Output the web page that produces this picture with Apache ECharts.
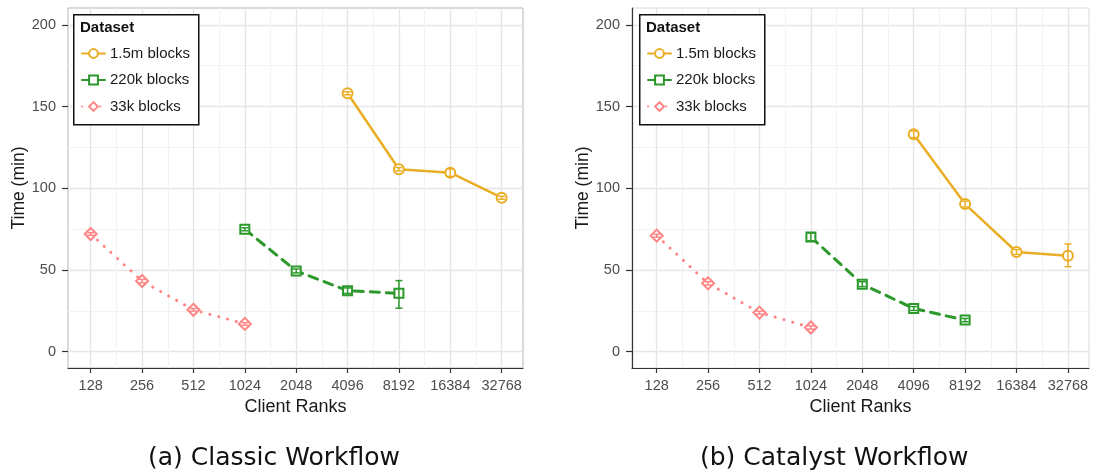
<!DOCTYPE html>
<html><head><meta charset="utf-8">
<script src="https://cdn.jsdelivr.net/npm/echarts@6/dist/echarts.min.js"></script>
<style>html,body{margin:0;padding:0;background:#fff}#c{width:1093px;height:475px}</style>
</head><body><div id="c"></div>
<script>
// ---- data ----
const rankTicks = [128, 256, 512, 1024, 2048, 4096, 8192, 16384, 32768];
const yTicks = [0, 50, 100, 150, 200];
const yMinorTicks = [25, 75, 125, 175];
const seriesNames = ['1.5m blocks', '220k blocks', '33k blocks'];
const panelTitles = ['(a) Classic Workflow', '(b) Catalyst Workflow'];

// Classic workflow
const classicRanks15m = [4096, 8192, 16384, 32768];
const classic15m      = [158.1, 111.6, 109.5, 94.2];
const classic15mLo    = [157.2, 110.6, 107.2, 93.3];
const classic15mHi    = [159.0, 112.6, 111.8, 95.1];
const classicRanks220k = [1024, 2048, 4096, 8192];
const classic220k      = [74.9, 49.4, 37.3, 35.7];
const classic220kLo    = [74.0, 48.2, 35.6, 26.6];
const classic220kHi    = [75.8, 50.6, 39.0, 43.5];
const classicRanks33k = [128, 256, 512, 1024];
const classic33k      = [72.0, 43.2, 25.6, 17.0];
const classic33kLo    = [71.2, 42.2, 24.8, 16.2];
const classic33kHi    = [72.8, 44.2, 26.4, 17.8];

// Catalyst workflow
const catalystRanks15m = [4096, 8192, 16384, 32768];
const catalyst15m      = [133.0, 90.3, 61.0, 58.7];
const catalyst15mLo    = [131.0, 88.5, 59.5, 52.0];
const catalyst15mHi    = [135.0, 92.1, 62.5, 65.9];
const catalystRanks220k = [1024, 2048, 4096, 8192];
const catalyst220k      = [70.2, 41.3, 26.4, 19.3];
const catalyst220kLo    = [67.8, 39.8, 25.2, 18.3];
const catalyst220kHi    = [72.6, 42.8, 27.6, 20.3];
const catalystRanks33k = [128, 256, 512, 1024];
const catalyst33k      = [71.0, 41.8, 23.9, 14.8];
const catalyst33kLo    = [70.1, 40.8, 23.0, 13.8];
const catalyst33kHi    = [71.9, 42.8, 24.8, 15.8];

// ---- styles ----
const colors = ['#EAAE24', '#2B982B', '#FF8585'];
const symbols = ['emptyCircle', 'emptyRect', 'emptyDiamond'];
const symbolSizes = [10, 9, 12];
const lineTypes = ['solid', [9, 7], [0.1, 9]];
const lineWidths = [2.5, 3, 3];
const FONT = 'Liberation Sans, Arial, sans-serif';

const lg = v => Math.log2(v);
const xMajor = rankTicks.map(lg);
const xMinor = xMajor.slice(0, -1).map(v => v + 0.5);

const panels = [
  {
    left: 68, width: 455, xmin: 6.558, xmax: 15.415, yAxisLine: false, box: 73, caption: 148,
    sets: [
      [classicRanks15m, classic15m, classic15mLo, classic15mHi],
      [classicRanks220k, classic220k, classic220kLo, classic220kHi],
      [classicRanks33k, classic33k, classic33kLo, classic33kHi]
    ]
  },
  {
    left: 632, width: 457, xmin: 6.52, xmax: 15.41, yAxisLine: true, box: 639, caption: 700,
    sets: [
      [catalystRanks15m, catalyst15m, catalyst15mLo, catalyst15mHi],
      [catalystRanks220k, catalyst220k, catalyst220kLo, catalyst220kHi],
      [catalystRanks33k, catalyst33k, catalyst33kLo, catalyst33kHi]
    ]
  }
];

const grid = [], xAxis = [], yAxis = [], series = [], legend = [], graphic = [];
const TOP = 8, HEIGHT = 360, YMIN = -10, YMAX = 210.3;

function errRender(params, api) {
  const x = api.value(0), lo = api.value(1), hi = api.value(2);
  const p1 = api.coord([x, lo]), p2 = api.coord([x, hi]);
  const w = 3.5;
  const style = { stroke: api.visual('color'), lineWidth: 1.5, fill: null };
  return {
    type: 'group', children: [
      { type: 'line', shape: { x1: p1[0], y1: p1[1], x2: p2[0], y2: p2[1] }, style },
      { type: 'line', shape: { x1: p1[0] - w, y1: p1[1], x2: p1[0] + w, y2: p1[1] }, style },
      { type: 'line', shape: { x1: p2[0] - w, y1: p2[1], x2: p2[0] + w, y2: p2[1] }, style }
    ]
  };
}

panels.forEach((p, gi) => {
  grid.push({ left: p.left, top: TOP, width: p.width, height: HEIGHT, show: true,
    borderColor: gi === 0 ? '#b5b5b5' : '#dcdcdc', borderWidth: 1, backgroundColor: '#fff' });
  xAxis.push({
    type: 'value', gridIndex: gi, min: p.xmin, max: p.xmax,
    name: 'Client Ranks', nameLocation: 'middle', nameGap: 25,
    nameTextStyle: { fontFamily: FONT, fontSize: 18, color: '#1a1a1a' },
    axisLine: { show: true, onZero: false, lineStyle: { color: '#333', width: 1.2 } },
    axisTick: { show: true, length: 5, customValues: xMajor, lineStyle: { color: '#333', width: 1.2 } },
    axisLabel: { customValues: xMajor, margin: 10, fontFamily: FONT, fontSize: 14.5, color: '#4d4d4d',
      formatter: v => String(Math.round(Math.pow(2, v))) },
    splitLine: { show: true, lineStyle: { color: '#e5e5e5', width: 1.3 } }
  });
  xAxis.push({
    type: 'value', gridIndex: gi, min: p.xmin, max: p.xmax,
    axisLine: { show: false }, axisTick: { show: false, customValues: xMinor },
    axisLabel: { show: false, customValues: xMinor },
    splitLine: { show: true, lineStyle: { color: '#f2f2f2', width: 1 } }
  });
  yAxis.push({
    type: 'value', gridIndex: gi, min: YMIN, max: YMAX,
    name: 'Time (min)', nameLocation: 'middle', nameGap: 39, nameRotate: 90,
    nameTextStyle: { fontFamily: FONT, fontSize: 17.5, color: '#1a1a1a' },
    axisLine: { show: p.yAxisLine, onZero: false, lineStyle: { color: '#333', width: 1.2 } },
    axisTick: { show: true, length: 6, customValues: yTicks, lineStyle: { color: '#333', width: 1.2 } },
    axisLabel: { customValues: yTicks, margin: 12, fontFamily: FONT, fontSize: 14.5, color: '#4d4d4d' },
    splitLine: { show: true, lineStyle: { color: '#e5e5e5', width: 1.3 } }
  });
  yAxis.push({
    type: 'value', gridIndex: gi, min: YMIN, max: YMAX,
    axisLine: { show: false }, axisTick: { show: false, customValues: yMinorTicks },
    axisLabel: { show: false, customValues: yMinorTicks },
    splitLine: { show: true, lineStyle: { color: '#f2f2f2', width: 1 } }
  });
  const xi = gi * 2, yi = gi * 2;
  p.sets.forEach((s, si) => {
    const [rk, vals, lo, hi] = s;
    series.push({
      type: 'line', name: seriesNames[si], xAxisIndex: xi, yAxisIndex: yi,
      data: rk.map((r, i) => [lg(r), vals[i]]),
      symbol: symbols[si], symbolSize: symbolSizes[si], showSymbol: true,
      itemStyle: { color: colors[si], borderWidth: 1.6 },
      lineStyle: { color: colors[si], width: lineWidths[si], type: lineTypes[si], cap: 'round' },
      z: 3, animation: false
    });
    series.push({
      type: 'custom', name: 'err' + gi + si, xAxisIndex: xi, yAxisIndex: yi,
      data: rk.map((r, i) => [lg(r), lo[i], hi[i]]),
      encode: { x: 0, y: [1, 2] },
      itemStyle: { color: colors[si] },
      renderItem: errRender, z: 4, animation: false
    });
  });
  const bx = p.box, by = 14;
  graphic.push({ type: 'rect', left: bx, top: by, shape: { width: 125, height: 110 },
    style: { fill: '#fff', stroke: '#111', lineWidth: 1.5 }, z: 50 });
  graphic.push({ type: 'text', left: bx + 7, top: by + 6.5,
    style: { text: 'Dataset', font: 'bold 15px ' + FONT, fill: '#111' }, z: 51 });
  legend.push({
    data: seriesNames, orient: 'vertical', left: bx + 8, top: 46, padding: 0,
    itemWidth: 23, itemHeight: 11, itemGap: 11.5, z: 60,
    textStyle: { fontFamily: FONT, fontSize: 15, color: '#1a1a1a' },
    selectedMode: false
  });
  graphic.push({ type: 'text', left: p.caption, top: 446, z: 51,
    style: { text: panelTitles[gi], font: '25px "DejaVu Sans", sans-serif', fill: '#111' }
  });
});

const chart = echarts.init(document.getElementById('c'));
chart.setOption({ animation: false, grid, xAxis, yAxis, series, legend, graphic });
</script></body></html>
